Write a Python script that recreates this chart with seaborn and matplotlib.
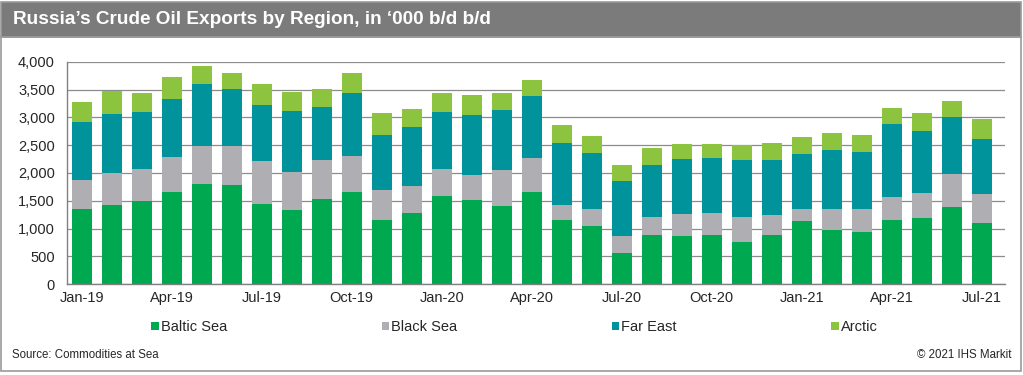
import pandas as pd
import matplotlib.pyplot as plt
import seaborn as sns
from matplotlib.patches import Rectangle, Patch

# === Data ('000 b/d) ===
months = list(pd.date_range("2019-01-01", "2021-07-01", freq="MS").strftime("%b-%y"))
baltic = [1360, 1430, 1500, 1660, 1810, 1790, 1450, 1340, 1540, 1665,
          1155, 1280, 1585, 1515, 1415, 1660, 1160, 1050, 565, 885,
          870, 885, 765, 885, 1140, 970, 945, 1155, 1190, 1390, 1110]
black_sea = [515, 565, 570, 635, 670, 690, 765, 675, 695, 635,
             540, 485, 490, 440, 640, 615, 270, 310, 310, 325,
             400, 395, 445, 360, 205, 385, 410, 420, 450, 600, 515]
far_east = [1040, 1070, 1030, 1030, 1120, 1035, 1015, 1100, 955, 1145,
            995, 1060, 1020, 1090, 1080, 1110, 1110, 1000, 980, 935,
            980, 995, 1025, 990, 1000, 1060, 1025, 1305, 1115, 1020, 990]
arctic = [360, 405, 345, 400, 325, 280, 370, 335, 315, 355,
          385, 320, 340, 360, 305, 290, 315, 305, 280, 305,
          270, 245, 265, 305, 300, 305, 305, 290, 320, 290, 360]

series = ["Baltic Sea", "Black Sea", "Far East", "Arctic"]
colors = ["#00a850", "#afafb3", "#00939b", "#8dc43f"]

df = pd.DataFrame({"month": months, "Baltic Sea": baltic, "Black Sea": black_sea,
                   "Far East": far_east, "Arctic": arctic})
cum = df[series].cumsum(axis=1)
cum["month"] = df["month"]

# === Plotting config ===
sns.set_style("white")
plt.rcParams["font.family"] = ["Liberation Sans", "DejaVu Sans"]

fig = plt.figure(figsize=(10.23, 3.75), dpi=100)
ax = fig.add_axes([0.0652, 0.2419, 0.9172, 0.5936])

# stacked bars: draw cumulative totals back to front
for name, col in reversed(list(zip(series, colors))):
    sns.barplot(data=cum, x="month", y=name, order=months, color=col,
                saturation=1, width=0.667, linewidth=0, errorbar=None, ax=ax)

ax.set_xlim(-0.5, 30.78)
ax.set_ylim(0, 4000)
ax.set_yticks(range(0, 4001, 500))
ax.set_yticklabels([f"{v:,}" for v in range(0, 4001, 500)], fontsize=10.5)
ax.set_xticks(range(0, 31, 3))
ax.set_xticklabels(months[::3], fontsize=10.5)
ax.set_xticks([i - 0.5 for i in range(0, 31, 3)], minor=True)
ax.tick_params(axis="x", which="major", length=0, pad=5)
ax.tick_params(axis="x", which="minor", length=3.5, color="#808080", width=1)
ax.tick_params(axis="y", length=3.5, color="#808080", pad=5)
ax.set_xlabel("")
ax.set_ylabel("")
ax.yaxis.grid(True, color="#8c8c8c", linewidth=0.9)
ax.set_axisbelow(True)
for side in ["top", "right"]:
    ax.spines[side].set_visible(False)
for side in ["left", "bottom"]:
    ax.spines[side].set_color("#808080")
    ax.spines[side].set_linewidth(1)

# legend below
handles = [Patch(facecolor=c, edgecolor="none") for c in colors]
fig.legend(handles, series, loc="center", bbox_to_anchor=(0.503, 0.128), ncol=4,
           frameon=False, fontsize=10.5, handlelength=0.5, handleheight=0.5,
           handletextpad=0.15, columnspacing=10.6)

# title band and outer frame
fig.patches.append(Rectangle((0.001, 0.901), 0.997, 0.094, transform=fig.transFigure,
                             facecolor="#7b7b7b", edgecolor="#9a9a9a", linewidth=1.2))
fig.patches.append(Rectangle((0.001, 0.011), 0.997, 0.89, transform=fig.transFigure,
                             facecolor="none", edgecolor="#9a9a9a", linewidth=1.2))
fig.text(0.0127, 0.948, "Russia\u2019s Crude Oil Exports by Region, in \u2018000 b/d b/d",
         color="white", fontsize=13.7, fontweight="bold", va="center", ha="left")
fig.text(0.012, 0.053, "Source: Commodities at Sea", fontsize=8.3, va="center", ha="left")
fig.text(0.989, 0.053, "\u00a9 2021 IHS Markit", fontsize=8.3, va="center", ha="right")

fig.savefig("out.png", dpi=100)
